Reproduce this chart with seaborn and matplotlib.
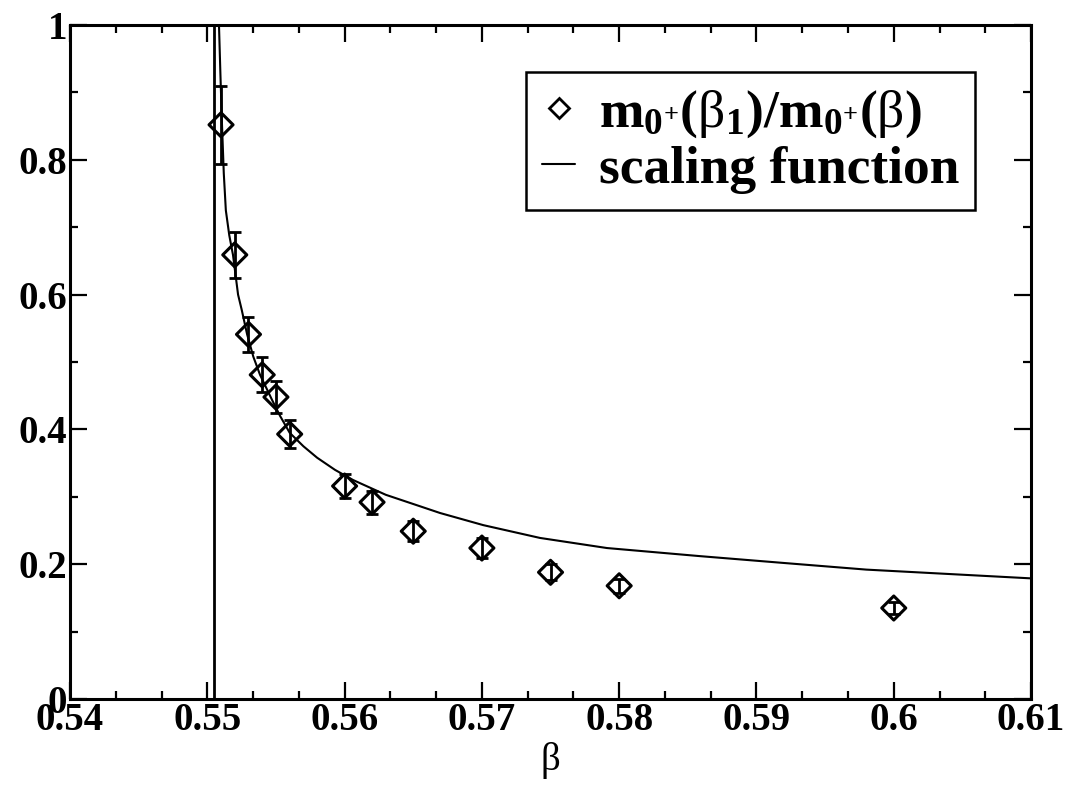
import numpy as np
import pandas as pd
import matplotlib
matplotlib.use("Agg")
import matplotlib.pyplot as plt
from matplotlib.ticker import AutoMinorLocator, FuncFormatter, MultipleLocator
from matplotlib.lines import Line2D
import seaborn as sns

# ── Data ────────────────────────────────────────────────────────
beta = [0.551, 0.552, 0.553, 0.554, 0.555, 0.556, 0.560, 0.562,
        0.565, 0.570, 0.575, 0.580, 0.600]
ratio = [0.852, 0.659, 0.541, 0.481, 0.448, 0.393, 0.316, 0.292,
         0.249, 0.224, 0.188, 0.168, 0.135]
ratio_err = [0.058, 0.034, 0.026, 0.026, 0.024, 0.021, 0.018, 0.017,
             0.015, 0.015, 0.012, 0.010, 0.009]

# scaling function, sampled along the drawn curve
curve_beta = [0.55085, 0.55095, 0.55107, 0.55120, 0.55135, 0.55160, 0.55187,
              0.55224, 0.55250, 0.55290, 0.55335, 0.55384, 0.55471, 0.55530,
              0.55600, 0.55700, 0.55800, 0.55930, 0.56061, 0.56300, 0.56549,
              0.56695, 0.57010, 0.57423, 0.57911, 0.58588, 0.59190, 0.59800,
              0.61000]
curve_val = [1.000, 0.930, 0.852, 0.780, 0.725, 0.688, 0.659,
             0.600, 0.578, 0.541, 0.508, 0.481, 0.444, 0.420,
             0.395, 0.375, 0.358, 0.340, 0.325, 0.303, 0.286,
             0.276, 0.258, 0.239, 0.224, 0.212, 0.202, 0.192,
             0.179]

# vertical line at the critical coupling
beta_c = [0.5505, 0.5505]
beta_c_y = [0.0, 1.0]

# ── Style ────────────────────────────────────────────────────────
sns.set_theme(style="ticks")
plt.rcParams['font.family'] = ['Liberation Serif', 'DejaVu Serif']
plt.rcParams['mathtext.fontset'] = 'custom'
plt.rcParams['mathtext.rm'] = 'Liberation Serif'
plt.rcParams['mathtext.it'] = 'Liberation Serif'
plt.rcParams['mathtext.bf'] = 'Liberation Serif:bold'
for key in ['text.color', 'axes.labelcolor', 'xtick.color', 'ytick.color',
            'axes.edgecolor']:
    plt.rcParams[key] = 'black'

fig = plt.figure(figsize=(10.69, 7.87), dpi=100)
ax = fig.add_axes([0.0655, 0.1118, 0.899, 0.8564])

df_pts = pd.DataFrame({"beta": beta, "ratio": ratio, "err": ratio_err})
df_curve = pd.DataFrame({"beta": curve_beta, "val": curve_val})
df_vline = pd.DataFrame({"beta": beta_c, "val": beta_c_y})

sns.lineplot(data=df_vline, x="beta", y="val", ax=ax, color="black",
             linewidth=2.0, estimator=None, sort=False)
sns.lineplot(data=df_curve, x="beta", y="val", ax=ax, color="black",
             linewidth=1.5, estimator=None, sort=False)
ax.errorbar(df_pts["beta"], df_pts["ratio"], yerr=df_pts["err"], fmt="none",
            ecolor="black", elinewidth=2, capsize=4, capthick=2, zorder=3)
sns.scatterplot(data=df_pts, x="beta", y="ratio", ax=ax, marker="D", s=150,
                facecolor="none", edgecolor="black", linewidth=2.2, zorder=4)

# ── Axes ─────────────────────────────────────────────────────────
ax.set_xlim(0.54, 0.61)
ax.set_ylim(0, 1)
ax.xaxis.set_major_locator(MultipleLocator(0.01))
ax.xaxis.set_minor_locator(AutoMinorLocator(3))
ax.yaxis.set_major_locator(MultipleLocator(0.2))
ax.yaxis.set_minor_locator(AutoMinorLocator(2))
fmt = FuncFormatter(lambda v, p: f"{v:.2f}".rstrip("0").rstrip(".") if v != 0 else "0")
ax.xaxis.set_major_formatter(fmt)
ax.yaxis.set_major_formatter(fmt)
ax.tick_params(which="both", direction="in", top=True, right=True, width=1.6,
               color="black", labelcolor="black")
ax.tick_params(which="major", length=12, labelsize=28, pad=2)
ax.tick_params(which="minor", length=6)
for lab in ax.get_xticklabels() + ax.get_yticklabels():
    lab.set_fontweight("bold")
for sp in ax.spines.values():
    sp.set_linewidth(2.2)
    sp.set_color("black")

ax.set_xlabel("β", fontsize=28, labelpad=2, color="black")
ax.set_ylabel("")

# ── Legend ───────────────────────────────────────────────────────
handles = [
    Line2D([], [], marker="D", linestyle="none", markersize=10,
           markerfacecolor="none", markeredgecolor="black", markeredgewidth=2),
    Line2D([], [], color="black", linewidth=1.5),
]
labels = [r"m$_{\mathbf{0}^{\mathbf{+}}}$($\mathrm{β}_{\mathbf{1}}$)/m$_{\mathbf{0}^{\mathbf{+}}}$($\mathrm{β}$)",
          "scaling function"]
leg = ax.legend(handles, labels, loc="upper right",
                bbox_to_anchor=(0.9417, 0.930), borderaxespad=0,
                fancybox=False, framealpha=1, edgecolor="black",
                prop={"weight": "bold", "size": 38.5},
                handlelength=0.6, handletextpad=0.45, borderpad=0.3,
                labelspacing=0.1)
leg.get_frame().set_linewidth(1.8)
for t in leg.get_texts():
    t.set_color("black")

fig.savefig("out.png", dpi=100)
